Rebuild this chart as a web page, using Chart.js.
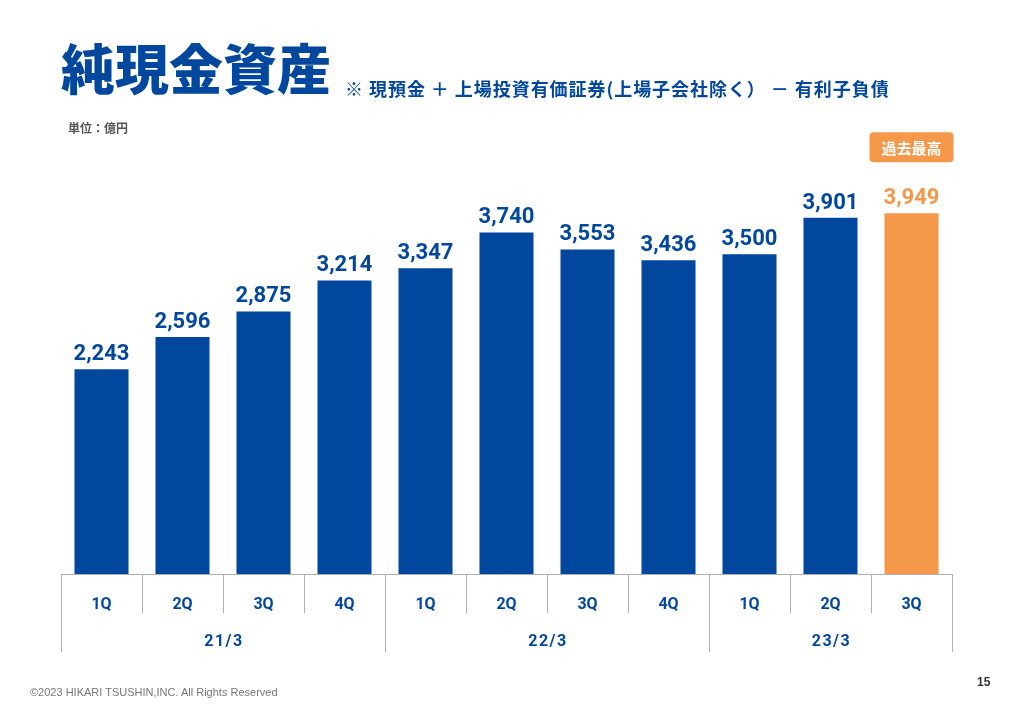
<!DOCTYPE html>
<html lang="ja">
<head>
<meta charset="utf-8">
<script src="https://cdn.jsdelivr.net/npm/chart.js@4.4.1/dist/chart.umd.min.js"></script>
<style>
  body { margin: 0; background: #fff; }
  #page { position: relative; width: 1028px; height: 722px; overflow: hidden; font-family: 'Noto Sans CJK JP', sans-serif; }
  #chart { position: absolute; left: 0; top: 0; }
  .title { position: absolute; left: 61px; top: 40px; font-size: 54px; font-weight: 900; color: #00479d; line-height: 1; }
  .sub { position: absolute; left: 345px; top: 79px; font-size: 18px; font-weight: 700; color: #00479d; line-height: 1; white-space: nowrap; letter-spacing: 0.95px; }
  .unit { position: absolute; left: 68px; top: 119px; font-size: 12px; font-weight: 700; color: #555; }
  .foot { position: absolute; left: 30px; top: 686px; font-family: 'Liberation Sans', Arial, sans-serif; font-size: 11px; color: #777; }
  .page { position: absolute; left: 977px; top: 675px; font-family: 'Liberation Sans', Arial, sans-serif; font-size: 12px; font-weight: 700; color: #333; }
</style>
</head>
<body>
<div id="page">
  <canvas id="chart" width="1028" height="722"></canvas>
  <div class="title">純現金資産</div>
  <div class="sub">※ 現預金 ＋ 上場投資有価証券(上場子会社除く） － 有利子負債</div>
  <div class="unit">単位：億円</div>
  <div class="foot">©2023 HIKARI TSUSHIN,INC. All Rights Reserved</div>
  <div class="page">15</div>
</div>
<script>
const quarters = ['1Q', '2Q', '3Q', '4Q', '1Q', '2Q', '3Q', '4Q', '1Q', '2Q', '3Q'];
const fiscalYears = ['21/3', '22/3', '23/3'];
const quartersPerYear = [4, 4, 3];
const netCash = [2243, 2596, 2875, 3214, 3347, 3740, 3553, 3436, 3500, 3901, 3949];
const recordLabel = '過去最高';

const BLUE = '#00479d';
const ORANGE = '#f5984a';
const LINE = '#b0b0b0';
const barColors = netCash.map((v, i) => i === netCash.length - 1 ? ORANGE : BLUE);

// value labels above bars + record badge
const valueLabels = {
  id: 'valueLabels',
  afterDatasetsDraw(chart) {
    const ctx = chart.ctx;
    const meta = chart.getDatasetMeta(0);
    ctx.save();
    ctx.textAlign = 'center';
    ctx.textBaseline = 'alphabetic';
    ctx.font = 'bold 22px Roboto, sans-serif';
    meta.data.forEach((bar, i) => {
      ctx.fillStyle = barColors[i];
      ctx.fillText(netCash[i].toLocaleString('en-US'), bar.x, bar.y - 9);
    });
    // badge over the last bar
    const last = meta.data[meta.data.length - 1];
    const w = 84, h = 30, r = 4;
    const bx = last.x - w / 2, by = last.y - 81;
    ctx.fillStyle = ORANGE;
    ctx.beginPath();
    ctx.roundRect(bx, by, w, h, r);
    ctx.fill();
    ctx.fillStyle = '#fff';
    ctx.font = "bold 15px 'Noto Sans CJK JP', sans-serif";
    ctx.textBaseline = 'middle';
    ctx.fillText(recordLabel, last.x, by + h / 2 + 1);
    ctx.restore();
  }
};

// category table under the bars
const categoryTable = {
  id: 'categoryTable',
  afterDraw(chart) {
    const ctx = chart.ctx;
    const x = chart.scales.x;
    const area = chart.chartArea;
    const half = (x.getPixelForValue(1) - x.getPixelForValue(0)) / 2;
    const row1 = area.bottom + 39, row2 = area.bottom + 78;
    ctx.save();
    ctx.strokeStyle = LINE;
    ctx.lineWidth = 1;
    ctx.beginPath();
    ctx.moveTo(area.left, area.bottom + 0.5);
    ctx.lineTo(area.right, area.bottom + 0.5);
    ctx.stroke();

    // group boundaries
    const bounds = [0];
    quartersPerYear.forEach(n => bounds.push(bounds[bounds.length - 1] + n));
    for (let i = 0; i <= quarters.length; i++) {
      const px = Math.round(x.getPixelForValue(i) - half) + 0.5;
      const long = bounds.includes(i);
      ctx.beginPath();
      ctx.moveTo(px, area.bottom);
      ctx.lineTo(px, long ? row2 : row1);
      ctx.stroke();
    }

    ctx.fillStyle = BLUE;
    ctx.textAlign = 'center';
    ctx.textBaseline = 'middle';
    ctx.font = 'bold 16px Roboto, sans-serif';
    quarters.forEach((q, i) => ctx.fillText(q, x.getPixelForValue(i), area.bottom + 31));

    ctx.letterSpacing = '1.5px';
    fiscalYears.forEach((fy, g) => {
      const a = x.getPixelForValue(bounds[g]) - half;
      const b = x.getPixelForValue(bounds[g + 1] - 1) + half;
      ctx.fillText(fy, (a + b) / 2 + 1, area.bottom + 68);
    });
    ctx.restore();
  }
};

new Chart(document.getElementById('chart'), {
  type: 'bar',
  data: {
    labels: quarters,
    datasets: [{
      data: netCash,
      backgroundColor: barColors,
      borderWidth: 0,
      categoryPercentage: 1,
      barPercentage: 0.667
    }]
  },
  options: {
    responsive: false,
    animation: false,
    layout: { padding: { left: 61, right: 76, top: 163, bottom: 148 } },
    plugins: { legend: { display: false }, tooltip: { enabled: false } },
    scales: {
      x: { display: false },
      y: { display: false, min: 0, max: 4500 }
    }
  },
  plugins: [valueLabels, categoryTable]
});
</script>
</body>
</html>
